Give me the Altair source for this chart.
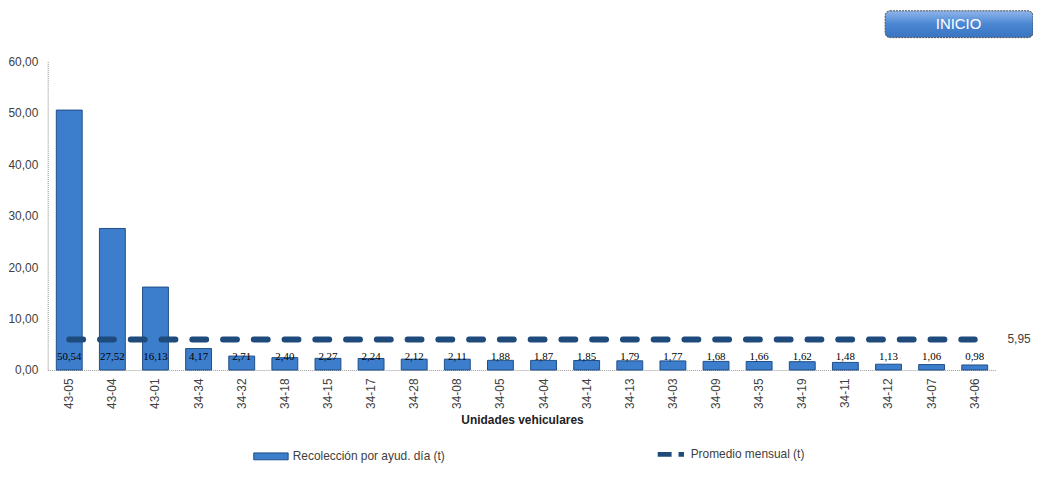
import altair as alt
import pandas as pd

unidades = ["43-05", "43-04", "43-01", "34-34", "34-32", "34-18", "34-15", "34-17",
            "34-28", "34-08", "34-05", "34-04", "34-14", "34-13", "34-03", "34-09",
            "34-35", "34-19", "34-11", "34-12", "34-07", "34-06"]
recoleccion = [50.54, 27.52, 16.13, 4.17, 2.71, 2.40, 2.27, 2.24, 2.12, 2.11, 1.88,
               1.87, 1.85, 1.79, 1.77, 1.68, 1.66, 1.62, 1.48, 1.13, 1.06, 0.98]
promedio = 5.95
serie_barra = "Recolección por ayud. día (t)"
serie_linea = "Promedio mensual (t)"

df = pd.DataFrame({
    "unidad": unidades,
    "valor": recoleccion,
    "promedio": [promedio] * len(unidades),
    "serie_b": [serie_barra] * len(unidades),
    "serie_l": [serie_linea] * len(unidades),
})
df["etiqueta"] = df["valor"].map(lambda v: f"{v:.2f}".replace(".", ","))

W, H = 956, 311
FONT = "Liberation Sans"

xenc = alt.X("unidad:N", sort=unidades,
             scale=alt.Scale(paddingInner=0.4, paddingOuter=0.2),
             axis=alt.Axis(title="Unidades vehiculares", labelAngle=-90, labelFont=FONT,
                           labelFontSize=12, labelColor="#404040", titleFont=FONT,
                           titleFontSize=12, titleFontWeight="bold", titleColor="#222222",
                           domainColor="#9a9a9a", domainDash=[1, 1], ticks=False,
                           labelPadding=8, titlePadding=6))

yscale = alt.Scale(domain=[0, 60])

bars = alt.Chart(df).mark_bar(stroke="#1f4e86", strokeWidth=1).encode(
    x=xenc,
    y=alt.Y("valor:Q", scale=yscale,
            axis=alt.Axis(title=None, values=[0, 10, 20, 30, 40, 50, 60],
                          labelExpr="replace(format(datum.value, '.2f'), '.', ',')",
                          labelFont=FONT, labelFontSize=12, labelColor="#404040",
                          grid=False, ticks=False, domainColor="#8a8a8a",
                          domainDash=[1, 1], labelPadding=10)),
    fill=alt.Fill("serie_b:N", scale=alt.Scale(range=["#3c7ecb"]),
                  legend=alt.Legend(title=None, orient="none", legendX=207, legendY=380,
                                    symbolType="M-1,-0.2H1V0.2H-1Z", symbolSize=1200,
                                    symbolStrokeColor="#1f4e86", symbolStrokeWidth=1,
                                    labelFont=FONT, labelFontSize=12, labelColor="#404040")),
)

line = alt.Chart(df).mark_line(strokeWidth=6, strokeDash=[14, 17], strokeCap="round").encode(
    x=alt.X("unidad:N", sort=unidades),
    y=alt.Y("promedio:Q", scale=yscale),
    stroke=alt.Stroke("serie_l:N", scale=alt.Scale(range=["#1f4a7c"]),
                      legend=alt.Legend(title=None, orient="none", legendX=612, legendY=380,
                                        symbolType="stroke", symbolStrokeWidth=5,
                                        symbolDash=[14, 7], symbolSize=700,
                                        labelFont=FONT, labelFontSize=12,
                                        labelColor="#404040")),
)

labels = alt.Chart(df).mark_text(font="Liberation Serif", fontSize=11, color="#000000",
                                 baseline="middle").encode(
    x=alt.X("unidad:N", sort=unidades),
    y=alt.value(H - 13),
    text="etiqueta:N",
)

avg_label = alt.Chart(df.tail(1)).mark_text(font=FONT, fontSize=12, color="#404040",
                                            align="left", dx=33, baseline="middle").encode(
    x=alt.X("unidad:N", sort=unidades),
    y=alt.Y("promedio:Q", scale=yscale),
    text=alt.value("5,95"),
)

btn = alt.Chart(pd.DataFrame({"t": ["INICIO"]})).mark_rect(
    cornerRadius=5, stroke="#4a4a4a", strokeWidth=1, strokeDash=[2, 1],
    fill=alt.Gradient(gradient="linear", x1=0, y1=0, x2=0, y2=1,
                      stops=[alt.GradientStop(offset=0, color="#8fb6ea"),
                             alt.GradientStop(offset=0.5, color="#4a86d3"),
                             alt.GradientStop(offset=1, color="#3a74c0")]),
).encode(x=alt.value(844), x2=alt.value(993), y=alt.value(-51), y2=alt.value(-24))

btn_text = alt.Chart(pd.DataFrame({"t": ["INICIO"]})).mark_text(
    font=FONT, fontSize=15, color="white", baseline="middle", align="center"
).encode(x=alt.value(918), y=alt.value(-38), text="t:N")

chart = alt.layer(bars, line, labels, avg_label, btn, btn_text).properties(
    width=W, height=H, autosize=alt.AutoSizeParams(type="none"),
    padding={"left": 40, "top": 52, "right": 37, "bottom": 111},
    background="white",
).configure_view(stroke=None)

chart.save("out.html", embed_options={"renderer": "svg", "actions": False})
